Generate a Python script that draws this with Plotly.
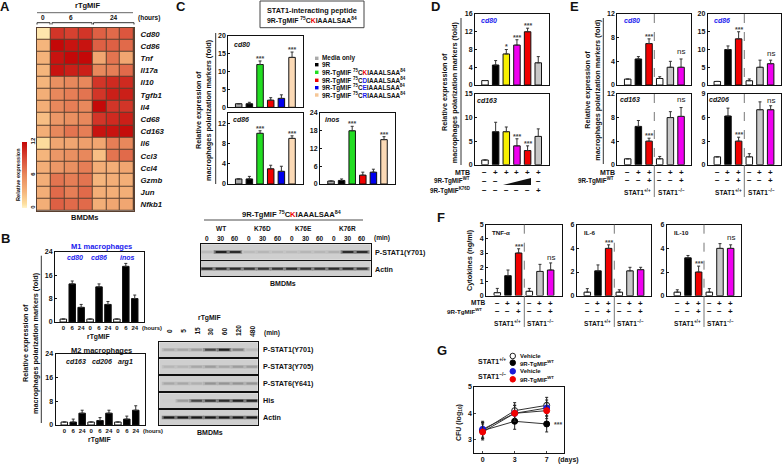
import plotly.graph_objects as go

W, H = 782, 464
FONT = "Liberation Sans"

# ---------- data ----------
genes = ["Cd80","Cd86","Tnf","Il17a","Il10","Tgfb1","Il4","Cd68","Cd163","Il6","Ccl3","Ccl4","Gzmb","Jun","Nfkb1"]
heat = [
 [0.5,10,9.5,10,8,7.5,8.5],
 [3,12,11.5,11.5,8,8,7.5],
 [3.2,11.5,12,12,4,7,4],
 [3,11.5,11,11,6,6.5,7.5],
 [3,5.5,6,6,10,10.5,10.5],
 [3.5,6,6.5,7,10,11,11],
 [3.5,6,6.5,6,12,10,10],
 [2.5,5,5.5,6,10,10.5,11],
 [3.5,6,7,6.5,11.5,11.5,11.8],
 [1,4,4,4.5,4,6.5,6],
 [3,5,5.5,6,2.5,7,7.5],
 [3.5,5,5.5,6.5,3.5,3.5,4],
 [3.5,7,6.5,7,3,3.5,3.5],
 [3.5,7.5,6.5,7.5,3.5,3.5,3.5],
 [3.5,8,7.5,7.5,3.5,4,4],
]
colorscale = [[0,"#fff4cc"],[0.06,"#fde0a0"],[0.25,"#f5b57c"],[0.5,"#e8885c"],[0.75,"#d94c38"],[1,"#c40808"]]

hours9 = ["0","6","24"]*3
m1_vals = [1,13,5,1,12,6,1,19,8];  m1_err = [0,1,1,0,1,1,0,1,1.2]
m2_vals = [1,1,4,1,1.5,4,1,2,5];   m2_err = [0,1,1,0,1,1,0,1,1.5]

c_cd80 = [1,1,12,2,2.5,14];  c_cd80_e = [0,.4,1,.7,1,1.5]
c_cd86 = [1,1,10,3,2.5,9];   c_cd86_e = [0,.5,.5,.7,1,.5]
c_inos = [1,1.2,18,3,4,15];  c_inos_e = [0,.5,1.5,1,1,1]

d_cd80 = [1,4.5,7,9,12,5];   d_cd80_e = [0,1,1,1.2,.8,1.4]
d_cd163 = [1,7,7,4,3,6];     d_cd163_e = [0,2,1,1.5,1,1.6]

e_cd80 = [1,4.4,7,1.1,3,3];      e_cd80_e = [0,.4,.8,.3,1,1.4]
e_cd86 = [1,10,13,1.2,5,6];      e_cd86_e = [0,1,2,.5,2,1]
e_cd163 = [1,6.5,4,1,8,8.2];     e_cd163_e = [0,1,.5,.4,1,1.5]
e_cd206 = [1,6.2,3,1,7,7];       e_cd206_e = [0,1,.5,.4,1,.5]

f_tnf = [.2,1.4,3,.3,1.7,1.8];   f_tnf_e = [.3,.4,.3,.2,.5,.5]
f_il6 = [.3,2.1,4,.3,2.1,2.2];   f_il6_e = [.3,.5,.3,.2,.3,.2]
f_il10 = [.3,3.2,2,.3,4,4];      f_il10_e = [.2,.2,.5,.3,.4,.3]

days = ["0","3","7"]
g_wt_veh = [3.35,4.1,4.3]; g_wt_pep = [3.35,3.7,3.6]
g_ko_veh = [3.4,4.0,4.2];  g_ko_pep = [3.3,4.0,4.1]
g_err = [.3,.3,.3]

blot1_lanes = ["0","30","60"]*4
blot1_pstat1 = [.1,.9,.85,.1,.12,.1,.1,.12,.12,.15,.85,.85]
blot1_actin = [.85,.85,.85,.8,.8,.8,.85,.8,.8,.85,.85,.8]
blot2_lanes = ["0","5","15","30","60","120","480"]
blot2_rows = {
 "P-STAT1(Y701)": [.2,.2,.25,.7,.9,.4,.1],
 "P-STAT3(Y705)": [.12,.12,.2,.25,.2,.25,.25],
 "P-STAT6(Y641)": [.2,.2,.15,.3,.3,.3,.3],
 "His": [0,.25,.7,.8,.85,.9,.9],
 "Actin": [.95,.95,.95,.95,.95,.95,.95],
}

GRAY, RED, GREEN, BLUE, TAN, MAG, YEL, LG = "#aaaaaa","#f00000","#22dd22","#0000ee","#fbd9b5","#f000f0","#f8f000","#c8c8c8"
colors_c = [GRAY,"#000000",GREEN,RED,BLUE,TAN]
colors_d = ["#ffffff","#000000",YEL,MAG,RED,LG]
colors_e = ["#ffffff","#000000",RED,"#ffffff",LG,MAG]

# ---------- helpers ----------
fig = go.Figure()
anns, shapes = [], []
n_ax = 0

def fx(x): return x / W
def fy(y): return 1 - y / H

def T(x, y, text, size=7, anchor="center", angle=0, color="#111111", bold=True, italic=False):
    anns.append(dict(xref="paper", yref="paper", x=fx(x), y=fy(y), text=text, showarrow=False,
                     xanchor=anchor, yanchor="middle", textangle=angle,
                     font=dict(family=FONT, size=size, color=color, weight=700 if bold else 400,
                               style="italic" if italic else "normal")))

def L(x0, y0, x1, y1, color="#222222", width=1, dash="solid"):
    shapes.append(dict(type="line", xref="paper", yref="paper", x0=fx(x0), y0=fy(y0), x1=fx(x1), y1=fy(y1),
                       line=dict(color=color, width=width, dash=dash)))

def axes(x0, y0, x1, y1, xopt, yopt):
    global n_ax
    n_ax += 1
    s = "" if n_ax == 1 else str(n_ax)
    base = dict(showgrid=False, zeroline=False, automargin=False, linecolor="#111111", linewidth=1, mirror=True, showline=True)
    fig.layout["xaxis"+s] = dict(base, domain=[fx(x0), fx(x1)], anchor="y"+s, **xopt)
    fig.layout["yaxis"+s] = dict(base, domain=[fy(y1), fy(y0)], anchor="x"+s, **yopt)
    return "x"+s, "y"+s

TF = dict(family=FONT, size=7, color="#111111", weight=700)

def bars(rect, vals, errs, cols, ymax, ticks, first, step, ticktext=None, stars=None, ns=None, barw=6.5):
    x0, y0, x1, y1 = rect
    idx = list(range(len(vals)))
    xo = dict(range=[(x0-first)/step, (len(vals)-1) + (x1-(first+step*(len(vals)-1)))/step], ticks="")
    if ticktext:
        xo.update(tickvals=idx, ticktext=ticktext, tickfont=dict(family=FONT, size=6, color="#111111", weight=700), ticklen=0)
    else:
        xo.update(showticklabels=False)
    yo = dict(range=[0, ymax], tickvals=ticks, ticks="inside", ticklen=2, tickwidth=1, tickcolor="#111111", tickfont=TF)
    xa, ya = axes(x0, y0, x1, y1, xo, yo)
    fig.add_trace(go.Bar(x=idx, y=vals, xaxis=xa, yaxis=ya, width=barw/step, showlegend=False,
                         marker=dict(color=cols, line=dict(color="#111111", width=1)),
                         error_y=dict(type="data", symmetric=False, array=errs, arrayminus=[0]*len(errs),
                                      color="#333333", thickness=1, width=1.5)))
    for i, s in (stars or {}).items():
        anns.append(dict(xref=xa, yref=ya, x=i, y=vals[i]+errs[i], text=s, showarrow=False, yanchor="bottom", yshift=-3,
                         font=dict(family=FONT, size=7, color="#444444", weight=700)))
    if ns:
        anns.append(dict(xref=xa, yref=ya, x=ns[0], y=ns[1], text="ns", showarrow=False, yanchor="middle",
                         font=dict(family=FONT, size=8, color="#222222")))
    return xa

def signs(xa, y, row):
    for i, s in enumerate(row):
        if s:
            anns.append(dict(xref=xa, yref="paper", x=i, y=fy(y), text=s, showarrow=False, yanchor="middle",
                             font=dict(family=FONT, size=8, color="#111111", weight=700)))

def ytitle(x1, x2, yc, line_x, ly0, ly1, second="macrophages polarization markers (fold)"):
    T(x1, yc, "Relative expression of", 7.3, angle=-90)
    T(x2, yc, second, 7.3, angle=-90)
    L(line_x, ly0, line_x, ly1, "#333333", 1)

def shade(v):
    g = int(205 - 190*v)
    return f"rgb({g},{g},{g})"
def halo(v):
    g = int(205 - 90*v)
    return f"rgb({g},{g},{g})"

def blot(rect, vals, first, step, h=2.0):
    x0, y0, x1, y1 = rect
    xa, ya = axes(x0, y0, x1, y1,
                  dict(range=[(x0-first)/step, len(vals)-1+(x1-(first+step*(len(vals)-1)))/step], showticklabels=False, ticks=""),
                  dict(range=[0, 1], showticklabels=False, ticks=""))
    idx = list(range(len(vals)))
    for col, th, sz in ((halo, h+1.5, step*.75), (shade, h, step*.55)):
        fig.add_trace(go.Scatter(x=idx, y=[.5]*len(vals), xaxis=xa, yaxis=ya, mode="markers", showlegend=False,
                                 marker=dict(symbol="line-ew", size=sz, color=[col(v) for v in vals],
                                             line=dict(width=th, color=[col(v) for v in vals]))))
    shapes.append(dict(type="rect", xref=xa+" domain", yref=ya+" domain", x0=0, x1=1, y0=0, y1=1,
                       fillcolor="#cfcfcf", line=dict(width=0), layer="below"))

# ---------- panel letters ----------
for t, x, y in [("A",5,7),("B",5,238),("C",181,6),("D",435,6),("E",574,6),("F",441,217),("G",442,350)]:
    T(x, y, t, 13)

# ---------- A ----------
xa, ya = axes(36.7, 27.7, 134, 210.7,
    dict(showticklabels=False, ticks="", range=[-.5,6.5], linecolor="#5a4030"),
    dict(range=[14.5,-.5], tickvals=list(range(15)), ticktext=genes, side="right", ticks="", linecolor="#5a4030",
         ticklabelstandoff=4,
         tickfont=dict(family=FONT, size=7.8, color="#111111", weight=700, style="italic")))
fig.add_trace(go.Heatmap(z=heat, xaxis=xa, yaxis=ya, zmin=0, zmax=12, colorscale=colorscale, xgap=1, ygap=1,
    colorbar=dict(x=fx(22), xanchor="left", y=fy(208), yanchor="bottom", len=66/H, thickness=5, xpad=0, ypad=0,
                  outlinewidth=0, tickvals=[0,6,12], tickangle=-90, ticklen=0,
                  tickfont=dict(family=FONT, size=6, color="#111111", weight=700))))
shapes.append(dict(type="rect", xref=xa+" domain", yref=ya+" domain", x0=0, x1=1, y0=0, y1=1,
                   fillcolor="#5a4030", line=dict(width=0), layer="below"))
T(87.7, 5.5, "rTgMIF", 7.5)
L(37, 12.7, 133, 12.7, "#666666", 1)
T(43, 17.5, "0", 6.5); T(71, 17.5, "6", 6.5); T(114, 17.5, "24", 6.5); T(135.5, 17.5, "(hours)", 6.5, "left")
for a, b in [(37,50),(52,92),(93.5,134)]:
    L(a, 22.7, b, 22.7, "#333333", 1); L(a, 22.7, a, 24.5, "#333333", 1); L(b, 22.7, b, 24.5, "#333333", 1)
T(85, 217, "BMDMs", 7.5)
T(18, 175, "Relative expression", 5.6, angle=-90)

# ---------- B ----------
x = bars((55,251.7,144,322), m1_vals, m1_err, ["#ffffff","#000000","#000000"]*3, 24, [0,8,16,24], 63.3, 8.93, hours9)
x = bars((55.5,354,144.5,425), m2_vals, m2_err, ["#ffffff","#000000","#000000"]*3, 24, [0,8,16,24], 64.3, 8.93, hours9)
T(101, 246.5, "M1 macrophages", 7.5, color="#1a1aee")
T(101, 350, "M2 macrophages", 7.5)
for t, px in [("cd80",75),("cd86",98.7),("inos",126.7)]:
    T(px, 257, t, 7, color="#1a1aee", italic=True)
for t, px in [("cd163",75.5),("cd206",101.7),("arg1",125.7)]:
    T(px, 361.5, t, 7, italic=True)
T(140, 327.5, "(hours)", 5.8, "left"); T(141, 431, "(hours)", 5.8, "left")
T(98, 337, "rTgMIF", 6.8); T(99, 440, "rTgMIF", 6.8)
ytitle(25, 35, 343, 41.3, 255.7, 423)

# ---------- C ----------
star25 = {2:"***",5:"***"}
bars((228.3,36,302.7,107.3), c_cd80, c_cd80_e, colors_c, 20, [0,5,10,15,20], 238.7, 10.67, stars=star25)
bars((228.3,113,302.7,184), c_cd86, c_cd86_e, colors_c, 14, [0,4,8,12], 238.7, 10.67, stars=star25)
bars((320,113,395,184), c_inos, c_inos_e, colors_c, 24, [0,6,12,18,24], 331, 10.6, stars=star25)
T(242, 44, "cd80", 7, italic=True); T(241, 120, "cd86", 7, italic=True); T(332, 120, "inos", 7, italic=True)
ytitle(199, 209, 110, 215.7, 33, 184)
shapes.append(dict(type="rect", xref="paper", yref="paper", x0=fx(260), x1=fx(364), y0=fy(27.7), y1=fy(1), line=dict(color="#444444", width=1)))
T(312, 10, "STAT1-interacting peptide", 7.3)
pep = "9R-TgMIF <sup>75</sup>C<span style='color:{c}'>{a}</span>IAAALSAA<sup>84</sup>"
T(312, 20, pep.format(c="#f00000", a="K"), 6.9)
leg_c = [("Media only",GRAY),("9R","#000000"),(pep.format(c="#f00000",a="K"),GREEN),(pep.format(c="#1a1aee",a="D"),RED),
         (pep.format(c="#1a1aee",a="E"),BLUE),(pep.format(c="#1a1aee",a="R"),"#f5c696")]
for (t, c), y in zip(leg_c, [58.3,64.7,72.3,80.3,87.7,95]):
    shapes.append(dict(type="rect", xref="paper", yref="paper", x0=fx(315), x1=fx(318.5), y0=fy(y+1.7), y1=fy(y-1.7), fillcolor=c, line=dict(width=0)))
    T(320, y, t, 6.4, "left")

# ---------- blots ----------
T(291, 213.5, pep.format(c="#f00000", a="K"), 7.6)
L(204, 220, 363, 220, "#888888", 1.5)
for t, px in [("WT",221),("K76D",262),("K76E",303.7),("K76R",347.3)]:
    T(px, 228, t, 6.5)
b1x = [207+14.1*i for i in range(12)]
for t, px in zip(blot1_lanes, b1x):
    T(px, 238, t, 6.5)
T(372, 238, "(min)", 6.5, "left")
blot((201,244.3,370.7,259.7), blot1_pstat1, 207, 14.1)
blot((201,261,370.7,276.3), blot1_actin, 207, 14.1)
T(372.5, 252, "P-STAT1(Y701)", 7.2, "left"); T(372.5, 269.5, "Actin", 7.2, "left")
T(283, 283, "BMDMs", 7)

T(209, 318, "rTgMIF", 6.8)
for i, t in enumerate(blot2_lanes):
    T(169+13.8*i, 331, t, 6.5, angle=-90)
T(262, 333, "(min)", 6.5, "left")
for (name, v), (a, b) in zip(blot2_rows.items(), [(342.3,357.3),(359.3,374),(376,391),(393.3,408),(410,425)]):
    blot((159.3,a,257.7,b), v, 169, 13.8)
    T(260.5, (a+b)/2, name, 7.2, "left")
T(209.7, 432.7, "BMDMs", 7)

# ---------- D ----------
xd = bars((475,14,549.3,85), d_cd80, d_cd80_e, colors_d, 16, [0,4,8,12,16], 485, 10.65, stars={2:"*",3:"***",4:"***"})
bars((475,94,549.3,164.7), d_cd163, d_cd163_e, colors_d, 15, [0,5,10,15], 485, 10.65, stars={3:"***",4:"***"})
T(489, 20, "cd80", 7, color="#1a1aee", italic=True); T(487, 100.5, "cd163", 7, italic=True)
ytitle(444, 454.3, 92, 461, 18, 165)
T(472, 173, "MTB", 7, "right")
T(472, 180.7, "9R-TgMIF<sup>WT</sup>", 6.3, "right"); T(472, 190, "9R-TgMIF<sup>K76D</sup>", 6.3, "right")
signs(xd, 173, ["−","+","+","+","+","+"])
signs(xd, 181, ["−","−","","","","−"])
signs(xd, 190, ["−","−","−","−","−","+"])
shapes.append(dict(type="path", xref="paper", yref="paper",
    path=f"M {fx(503)},{fy(185)} L {fx(531)},{fy(185)} L {fx(531)},{fy(178)} Z", fillcolor="#111111", line=dict(width=0)))

# ---------- E ----------
xe1 = bars((617.3,14,691,85), e_cd80, e_cd80_e, colors_e, 12, [0,4,8,12], 627.7, 10.67, stars={2:"***"}, ns=(5,5.6))
xe2 = bars((707.7,14,780.7,85), e_cd86, e_cd86_e, colors_e, 20, [0,5,10,15,20], 717.3, 10.67, stars={2:"***"}, ns=(5,8.9))
bars((617.3,94,691,164.7), e_cd163, e_cd163_e, colors_e, 12, [0,4,8,12], 627.7, 10.67, stars={2:"***"}, ns=(5,11))
bars((707.7,94,780.7,164.7), e_cd206, e_cd206_e, colors_e, 9, [0,3,6,9], 717.3, 10.67, stars={2:"***"}, ns=(5,8.2))
for t, px, y, c in [("cd80",632,20,"#1a1aee"),("cd86",722,20,"#1a1aee"),("cd163",630,100,"#111111"),("cd206",719,100,"#111111")]:
    T(px, y, t, 7, color=c, italic=True)
ytitle(586.7, 596.7, 90, 603.3, 18, 164)
for xx in (654.3, 744.3):
    L(xx, 14, xx, 85, "#777777", 1, "dash"); L(xx, 94, xx, 165, "#777777", 1, "dash"); L(xx, 165, xx, 197, "#777777", 1)
T(617, 172.5, "MTB", 7, "right"); T(616, 180.5, "9R-TgMIF<sup>WT</sup>", 6.3, "right")
for xa_ in (xe1, xe2):
    signs(xa_, 172.5, ["−","+","+","−","+","+"])
    signs(xa_, 180.5, ["−","−","+","−","−","+"])
for a, b in [(637.7,671),(728,761)]:
    T(a, 192, "STAT1<sup>+/+</sup>", 6.6); T(b, 192, "STAT1<sup>−/−</sup>", 6.6)

# ---------- F ----------
xf1 = bars((486,224.7,561.7,295.5), f_tnf, f_tnf_e, colors_e, 5, [0,1,2,3,4,5], 497.3, 10.67, stars={2:"***"}, ns=(5,2.7))
xf2 = bars((576.7,224.7,651,295.7), f_il6, f_il6_e, colors_e, 6, [0,2,4,6], 587.3, 10.67, stars={2:"***"})
xf3 = bars((666.7,224.7,741,295.7), f_il10, f_il10_e, colors_e, 6, [0,2,4,6], 677.3, 10.67, stars={2:"***"}, ns=(5,4.9))
T(469, 260, "Cytokines (ng/ml)", 7.3, angle=-90)
T(501, 232, "TNF-α", 6.2); T(590, 232, "IL-6", 6.2); T(681, 232, "IL-10", 6.2)
for xx, aa in [(524.3,xf1),(614.3,xf2),(704,xf3)]:
    L(xx, 224.7, xx, 295.7, "#777777", 1, "dash"); L(xx, 295.7, xx, 327, "#777777", 1)
    signs(aa, 303.3, ["−","+","+","−","+","+"])
    signs(aa, 311, ["−","−","+","−","−","+"])
T(487, 302.5, "MTB", 6.5, "right"); T(484, 311, "9R-TgMIF<sup>WT</sup>", 6.2, "right")
for a, b in [(507.7,540.7),(597.7,630.7),(687,720.7)]:
    T(a, 323, "STAT1<sup>+/+</sup>", 6.6); T(b, 323, "STAT1<sup>−/−</sup>", 6.6)

# ---------- G ----------
xg, yg = axes(474.3,386.7,564.3,452.7,
    dict(type="linear", range=[-.26,2.55], tickvals=[0,1,2], ticktext=days, ticks="inside", ticklen=2, tickfont=dict(family=FONT,size=7,color="#111111",weight=700)),
    dict(range=[2.52,5], tickvals=[3,4,5], ticks="inside", ticklen=2, tickfont=TF))
for v, fill in [(g_wt_veh,"#ffffff"),(g_wt_pep,"#000000"),(g_ko_veh,"#1a1ad8"),(g_ko_pep,"#f00000")]:
    fig.add_trace(go.Scatter(x=[0,1,2], y=v, xaxis=xg, yaxis=yg, mode="lines+markers", showlegend=False,
        line=dict(color="#333333", width=1),
        marker=dict(size=6, color=fill, line=dict(color="#222222" if fill=="#ffffff" else fill, width=1)),
        error_y=dict(type="data", array=g_err, color="#222222", thickness=1, width=1.5)))
anns.append(dict(xref=xg, yref=yg, x=2, y=g_wt_pep[2], text="***", showarrow=False, xanchor="left", xshift=5, yshift=-1,
                 font=dict(family=FONT, size=7, color="#444444", weight=700)))
T(459, 423, "CFU (log<sub>10</sub>)", 7, angle=-90)
T(556, 460, "(days)", 7, "left")
T(476, 361, "STAT1<sup>+/+</sup>", 7, "left"); T(476, 376, "STAT1<sup>−/−</sup>", 7, "left")
for y, c, t in [(356,"#ffffff","Vehicle"),(362.7,"#000000","9R-TgMIF<sup>WT</sup>"),(371.3,"#1a1ad8","Vehicle"),(379.3,"#f00000","9R-TgMIF<sup>WT</sup>")]:
    shapes.append(dict(type="circle", xref="paper", yref="paper", x0=fx(510), x1=fx(515.5), y0=fy(y+2.8), y1=fy(y-2.8), fillcolor=c,
                       line=dict(color="#222222" if c=="#ffffff" else c, width=1)))
    T(518, y, t, 6, "left")

fig.update_layout(width=W, height=H, margin=dict(l=0, r=0, t=0, b=0, autoexpand=False), paper_bgcolor="#ffffff",
                  plot_bgcolor="#ffffff", annotations=anns, shapes=shapes, showlegend=False,
                  font=dict(family=FONT), barmode="overlay", hovermode=False)
fig.write_html("out.html", config=dict(displayModeBar=False),
               post_script="document.body.style.margin='0';document.body.style.padding='0';")
